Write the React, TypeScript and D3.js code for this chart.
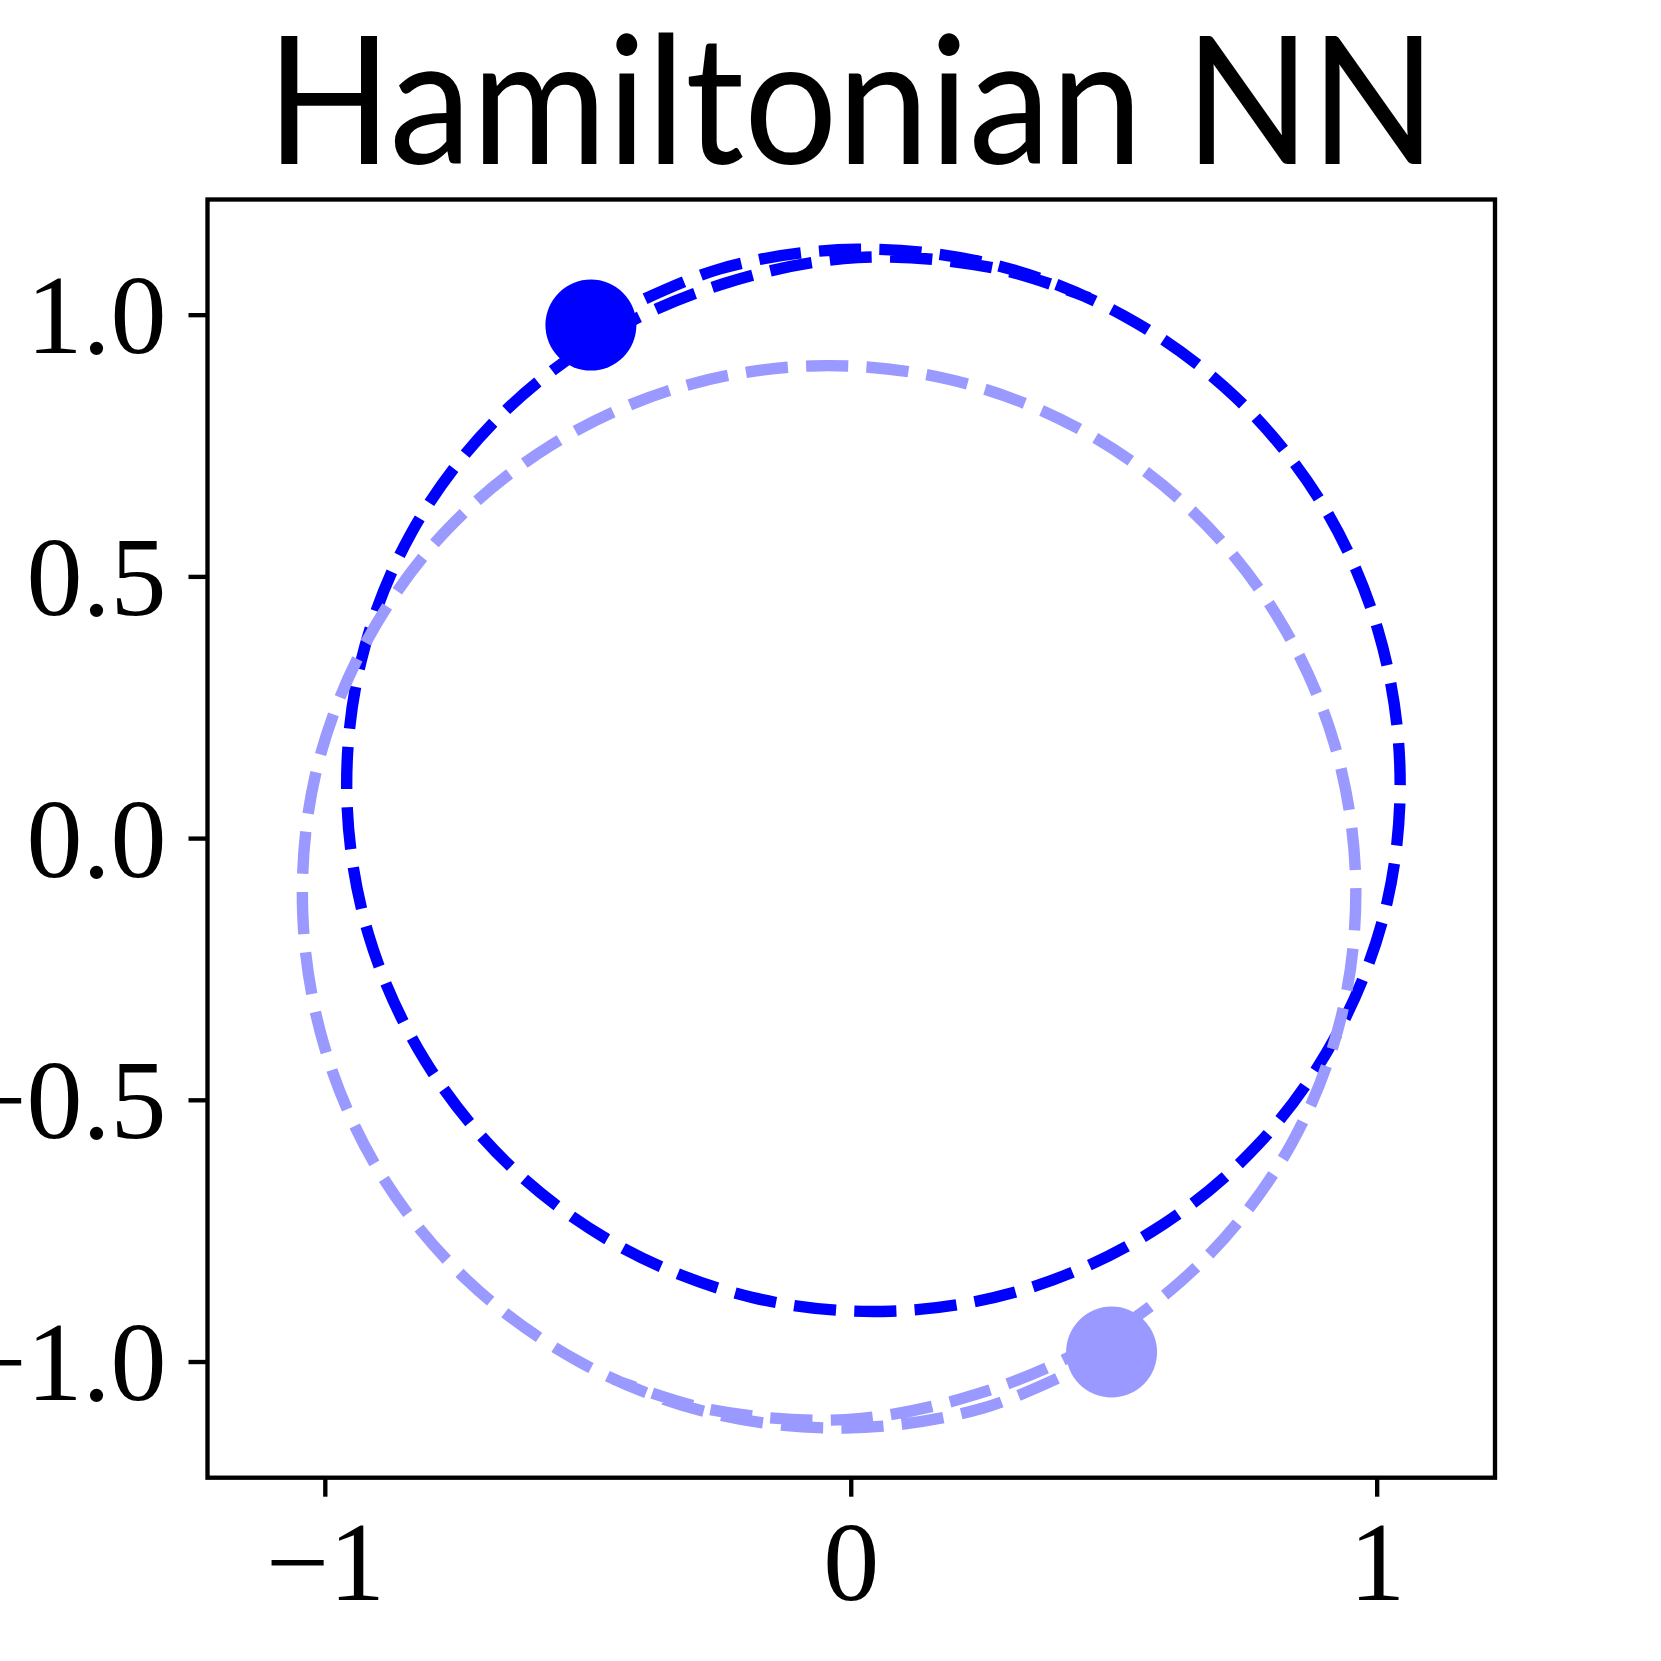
import React from "react";
import * as d3 from "d3";

// ---- data ----
const titleText = "Hamiltonian NN";
const xTicks = [-1, 0, 1];
const xTickLabels = ["\u22121", "0", "1"];
const yTicks = [-1, -0.5, 0, 0.5, 1];
const yTickLabels = ["\u22121.0", "\u22120.5", "0.0", "0.5", "1.0"];
const xLimits = [-1.224, 1.224];
const yLimits = [-1.221, 1.221];

// body 1 trajectory (dark blue)
const body1X = [
  -0.495, -0.251, 0.011, 0.273, 0.518, 0.73, 0.895, 1.001, 1.043, 1.019,
  0.927, 0.776, 0.573, 0.334, 0.075, -0.187, -0.433, -0.646, -0.811, -0.918,
  -0.959, -0.932, -0.837, -0.682, -0.479, -0.243, 0.012, 0.272, 0.452,
];
const body1Y = [
  0.981, 1.088, 1.126, 1.096, 0.999, 0.844, 0.64, 0.4, 0.141, -0.121,
  -0.367, -0.582, -0.75, -0.86, -0.903, -0.877, -0.783, -0.628, -0.423, -0.183,
  0.077, 0.339, 0.583, 0.793, 0.955, 1.06, 1.11, 1.09, 1.033,
];
// body 2 trajectory (light blue)
const body2X = [
  0.495, 0.251, -0.011, -0.273, -0.518, -0.73, -0.895, -1.001, -1.043, -1.019,
  -0.927, -0.776, -0.573, -0.334, -0.075, 0.187, 0.433, 0.646, 0.811, 0.918,
  0.959, 0.932, 0.837, 0.682, 0.479, 0.243, -0.012, -0.272, -0.452,
];
const body2Y = [
  -0.981, -1.088, -1.126, -1.096, -0.999, -0.844, -0.64, -0.4, -0.141, 0.121,
  0.367, 0.582, 0.75, 0.86, 0.903, 0.877, 0.783, 0.628, 0.423, 0.183,
  -0.077, -0.339, -0.583, -0.793, -0.955, -1.06, -1.11, -1.09, -1.033,
];
const body1Color = "#0000ff";
const body2Color = "#9999ff";

export default function App() {
  const W = 1661;
  const H = 1661;
  const left = 207.5;
  const right = 1495;
  const top = 199.5;
  const bottom = 1477.7;

  const x = d3.scaleLinear().domain(xLimits).range([left, right]);
  const y = d3.scaleLinear().domain(yLimits).range([bottom, top]);

  const line = d3
    .line<[number, number]>()
    .x((d) => x(d[0]))
    .y((d) => y(d[1]))
    .curve(d3.curveCatmullRom.alpha(0.5));

  const b1 = body1X.map((v, i) => [v, body1Y[i]] as [number, number]);
  const b2 = body2X.map((v, i) => [v, body2Y[i]] as [number, number]);

  const lw = 11.4;
  const dash = `${3.7 * lw} ${1.6 * lw}`;
  const spineW = 4.35;
  const tickLen = 19;
  const fontSize = 112;
  const serif = "'Liberation Serif', 'DejaVu Serif', serif";

  return (
    <svg
      width={W}
      height={H}
      viewBox={`0 0 ${W} ${H}`}
      style={{ position: "absolute", left: 0, top: 0, background: "#fff" }}
    >
      <rect x={0} y={0} width={W} height={H} fill="#fff" />
      <text
        x={(left + right) / 2}
        y={164}
        textAnchor="middle"
        fontFamily="Lato, 'Open Sans', sans-serif"
        fontSize={178}
        textLength={1170}
        lengthAdjust="spacingAndGlyphs"
        fill="#000"
      >
        {titleText}
      </text>

      <defs>
        <clipPath id="plotclip">
          <rect x={left} y={top} width={right - left} height={bottom - top} />
        </clipPath>
      </defs>

      <g clipPath="url(#plotclip)">
        <path
          d={line(b1) || ""}
          fill="none"
          stroke={body1Color}
          strokeWidth={lw}
          strokeDasharray={dash}
          strokeLinecap="butt"
          strokeLinejoin="round"
        />
        <path
          d={line(b2) || ""}
          fill="none"
          stroke={body2Color}
          strokeWidth={lw}
          strokeDasharray={dash}
          strokeLinecap="butt"
          strokeLinejoin="round"
        />
        <circle cx={x(body1X[0])} cy={y(body1Y[0])} r={45.5} fill={body1Color} />
        <circle cx={x(body2X[0])} cy={y(body2Y[0])} r={45.5} fill={body2Color} />
      </g>

      <rect
        x={left}
        y={top}
        width={right - left}
        height={bottom - top}
        fill="none"
        stroke="#000"
        strokeWidth={spineW}
      />

      {yTicks.map((t, i) => (
        <g key={"y" + i}>
          <line
            x1={left}
            x2={left - tickLen}
            y1={y(t)}
            y2={y(t)}
            stroke="#000"
            strokeWidth={spineW}
          />
          <text
            x={left - tickLen - 22}
            y={y(t) + 38}
            textAnchor="end"
            fontFamily={serif}
            fontSize={fontSize}
            fill="#000"
          >
            {yTickLabels[i]}
          </text>
        </g>
      ))}

      {xTicks.map((t, i) => (
        <g key={"x" + i}>
          <line
            x1={x(t)}
            x2={x(t)}
            y1={bottom}
            y2={bottom + tickLen}
            stroke="#000"
            strokeWidth={spineW}
          />
          <text
            x={x(t)}
            y={1600}
            textAnchor="middle"
            fontFamily={serif}
            fontSize={fontSize}
            fill="#000"
          >
            {xTickLabels[i]}
          </text>
        </g>
      ))}
    </svg>
  );
}
